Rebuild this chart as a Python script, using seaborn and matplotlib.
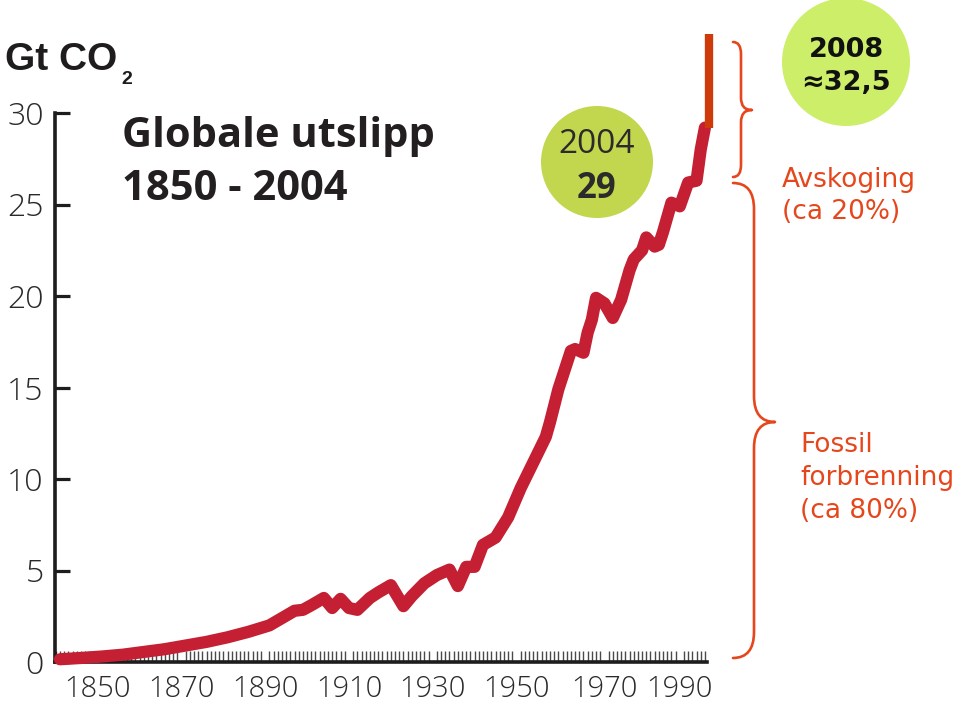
import matplotlib
matplotlib.use("Agg")
import matplotlib.pyplot as plt
import seaborn as sns
import pandas as pd
from matplotlib.patches import Ellipse, PathPatch
from matplotlib.path import Path
from matplotlib.ticker import MultipleLocator

# ---------------- data ----------------
years = [1850, 1855, 1860, 1865, 1870, 1875, 1880, 1885, 1890, 1895,
         1900, 1903, 1906, 1908, 1910, 1913, 1915, 1917, 1919, 1921,
         1924, 1926, 1929, 1932, 1934, 1937, 1940, 1943, 1945, 1947,
         1949, 1951, 1954, 1957, 1960, 1963, 1966, 1967, 1969, 1971,
         1972, 1973, 1975, 1976, 1977, 1978, 1980, 1982, 1984, 1986,
         1987, 1989, 1990, 1992, 1993, 1994, 1996, 1998, 2000, 2002,
         2003, 2004]
emissions = [0.15, 0.22, 0.30, 0.40, 0.55, 0.70, 0.90, 1.10, 1.35, 1.65,
             2.00, 2.40, 2.80, 2.85, 3.10, 3.50, 2.95, 3.45, 2.95, 2.85,
             3.50, 3.80, 4.20, 3.05, 3.60, 4.30, 4.75, 5.05, 4.15, 5.20,
             5.20, 6.40, 6.80, 7.90, 9.50, 10.9, 12.3, 13.1, 14.9, 16.3,
             17.0, 17.1, 16.9, 18.0, 18.7, 19.9, 19.6, 18.8, 19.8, 21.4,
             22.0, 22.5, 23.2, 22.7, 22.8, 23.5, 25.1, 24.9, 26.2, 26.3,
             28.0, 29.2]

# 2004 -> 2008 increment bar (drawn at the right end)
bar_year = [2005]
bar_low = [29.2]
bar_high = [34.3]

y_ticks = [0, 5, 10, 15, 20, 25, 30]
y_tick_labels = ["0", "5", "10", "15", "20", "25", "30"]
# x labels sit where they appear in the reference graphic
x_tick_pos = [1859, 1879, 1899, 1919, 1939, 1959, 1980, 1998]
x_tick_labels = ["1850", "1870", "1890", "1910", "1930", "1950", "1970", "1990"]

LINE = "#C41F32"
BAR = "#CF3A0A"
ORANGE = "#E6461C"
DARK = "#1e1c1d"

sns.set_style("white")
plt.rcParams["font.family"] = ["Open Sans", "DejaVu Sans"]

W, H = 960, 709
fig = plt.figure(figsize=(W / 100, H / 100), dpi=100)


def fx(x):
    return x / W


def fy(y):
    return 1 - y / H


ax = fig.add_axes([fx(55), fy(662), (707 - 55) / W, (662 - 113) / H])

df = pd.DataFrame({"year": years, "gt": emissions})
sns.lineplot(data=df, x="year", y="gt", ax=ax, color=LINE, linewidth=8.8,
             solid_capstyle="round", solid_joinstyle="round",
             clip_on=False, zorder=5)

ax.vlines(bar_year, bar_low, bar_high, colors=BAR, linewidth=6,
          clip_on=False, zorder=6)

ax.set_xlim(1848.8, 2004.5)
ax.set_ylim(0, 30)
ax.set_xlabel("")
ax.set_ylabel("")
for s in ["top", "right"]:
    ax.spines[s].set_visible(False)
for s in ["left", "bottom"]:
    ax.spines[s].set_linewidth(2.6)
    ax.spines[s].set_color(DARK)

ax.set_yticks(y_ticks)
ax.set_yticklabels(y_tick_labels)
ax.tick_params(axis="y", direction="in", length=11, width=2.3, pad=8,
               color=DARK, labelcolor="#2a2a2a", labelsize=23, left=True)
for lbl in ax.get_yticklabels():
    lbl.set_fontweight("light")

ax.set_xticks(x_tick_pos)
ax.set_xticklabels(x_tick_labels)
ax.xaxis.set_minor_locator(MultipleLocator(1))
ax.tick_params(axis="x", which="major", length=0, pad=9,
               labelcolor="#2a2a2a", labelsize=21, bottom=True)
ax.tick_params(axis="x", which="minor", direction="in", length=8,
               width=1.0, color="#4a4a4a", bottom=True)
for lbl in ax.get_xticklabels():
    lbl.set_fontweight("light")

# ---------------- texts ----------------
fig.text(fx(5), fy(70), "Gt CO", fontsize=28, fontweight="bold",
         family=["Liberation Sans", "DejaVu Sans"], color=DARK, va="baseline")
fig.text(fx(121), fy(84), "2", fontsize=14, fontweight="bold",
         family=["Liberation Sans", "DejaVu Sans"], color=DARK, va="baseline")

fig.text(fx(122), fy(147), "Globale utslipp", fontsize=30, fontweight="bold",
         color="#231f20", va="baseline")
fig.text(fx(122), fy(200), "1850 - 2004", fontsize=30, fontweight="bold",
         color="#231f20", va="baseline")

# green circles
c1 = Ellipse((fx(597), fy(162)), 2 * 56 / W, 2 * 56 / H,
             transform=fig.transFigure, facecolor="#C2D74E", edgecolor="none",
             zorder=1)
c2 = Ellipse((fx(846), fy(62)), 2 * 64 / W, 2 * 64 / H,
             transform=fig.transFigure, facecolor="#CDEE68", edgecolor="none",
             zorder=1)
fig.add_artist(c1)
fig.add_artist(c2)

fig.text(fx(597), fy(153), "2004", fontsize=24, color="#2b2b2b",
         ha="center", va="baseline", zorder=3)
fig.text(fx(597), fy(198), "29", fontsize=25, fontweight="bold",
         color="#2b2b2b", ha="center", va="baseline", zorder=3)

fig.text(fx(846), fy(57), "2008", fontsize=19.5, fontweight="bold",
         family="DejaVu Sans", color="#111111", ha="center", va="baseline",
         zorder=3)
fig.text(fx(846), fy(90), "≈32,5", fontsize=19.5, fontweight="bold",
         family="DejaVu Sans", color="#111111", ha="center", va="baseline",
         zorder=3)

fig.text(fx(782), fy(187), "Avskoging", fontsize=19, family="DejaVu Sans",
         color=ORANGE, va="baseline")
fig.text(fx(782), fy(219), "(ca 20%)", fontsize=19, family="DejaVu Sans",
         color=ORANGE, va="baseline")

fig.text(fx(800), fy(452), "Fossil", fontsize=19, family="DejaVu Sans",
         color=ORANGE, va="baseline")
fig.text(fx(800), fy(485), "forbrenning", fontsize=19, family="DejaVu Sans",
         color=ORANGE, va="baseline")
fig.text(fx(800), fy(518), "(ca 80%)", fontsize=19, family="DejaVu Sans",
         color=ORANGE, va="baseline")


# ---------------- braces ----------------
def brace(xl, yt, xv, xt, ym, yb, r):
    pts = [(xl, yt), (xv, yt), (xv, yt + r),
           (xv, ym - r), (xv, ym), (xt, ym),
           (xv, ym), (xv, ym + r),
           (xv, yb - r), (xv, yb), (xl, yb)]
    codes = [Path.MOVETO, Path.CURVE3, Path.CURVE3,
             Path.LINETO, Path.CURVE3, Path.CURVE3,
             Path.CURVE3, Path.CURVE3,
             Path.LINETO, Path.CURVE3, Path.CURVE3]
    verts = [(fx(x), fy(y)) for x, y in pts]
    p = PathPatch(Path(verts, codes), transform=fig.transFigure,
                  facecolor="none", edgecolor=ORANGE, linewidth=1.9,
                  capstyle="round", joinstyle="round")
    fig.add_artist(p)


brace(733, 42, 741, 752, 110, 177, 12)
brace(733, 183, 754, 775, 422, 658, 26)

fig.savefig("out.png", dpi=100, facecolor="white")
